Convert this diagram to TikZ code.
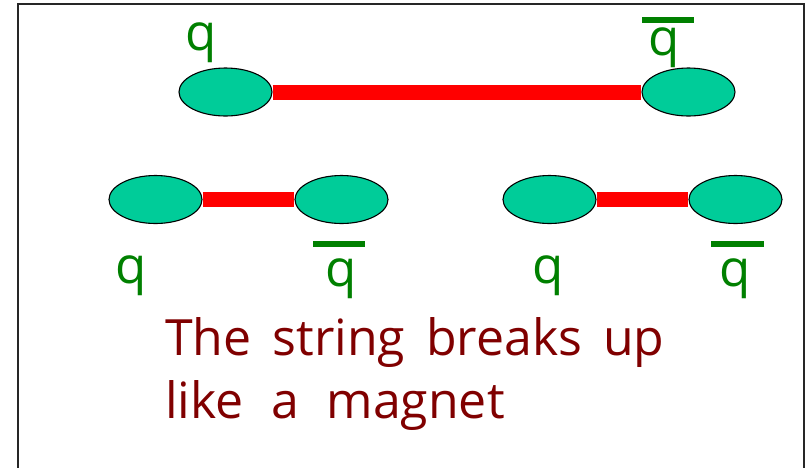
\documentclass[tikz,border=0pt]{standalone}
\usepackage{fontspec}
\setmainfont{Open Sans}
\usetikzlibrary{shapes.geometric}
\definecolor{qgreen}{RGB}{0,128,0}
\definecolor{blob}{RGB}{0,204,153}
\definecolor{strred}{RGB}{255,0,0}
\definecolor{txtred}{RGB}{128,0,0}
\tikzset{
  quark/.style={ellipse, draw=black, line width=1.1pt, fill=blob, minimum width=93pt, minimum height=48pt, inner sep=0pt},
  strng/.style={draw=strred, line width=15pt},
  qlabel/.style={text=qgreen, font=\fontsize{51}{51}\selectfont, inner sep=0pt, anchor=base},
  qbarline/.style={fill=qgreen},
  caption/.style={text=txtred, font=\fontsize{50}{50}\selectfont, inner sep=0pt, anchor=base west}
}
\begin{document}
\begin{tikzpicture}[x=1pt,y=-1pt]
\useasboundingbox (0,0) rectangle (809,467);
\clip (0,0) rectangle (809,467);
\draw[line width=1.6pt, draw=black!85] (18,480) -- (18,4) -- (804,4) -- (804,480);
% top pair
\node[quark] (t1) at (225.5,92) {};
\node[quark] (t2) at (688.5,92) {};
\draw[strng] (t1.east) -- (t2.west);
\node[qlabel] (tq) at (201.5,50) {q};
\node[qlabel] (tqb) at (664.5,55) {q};
\fill[qbarline] (642,17) rectangle (694,23);
% bottom left pair
\node[quark] (a1) at (155.5,199.5) {};
\node[quark] (a2) at (341.5,199.5) {};
\draw[strng] (a1.east) -- (a2.west);
\node[qlabel] (aq) at (131.5,283) {q};
\node[qlabel] (aqb) at (341.5,286) {q};
\fill[qbarline] (313,241) rectangle (365,247);
% bottom right pair
\node[quark] (b1) at (549.5,199.5) {};
\node[quark] (b2) at (735.5,199.5) {};
\draw[strng] (b1.east) -- (b2.west);
\node[qlabel] (bq) at (548.5,283) {q};
\node[qlabel] (bqb) at (735.5,286) {q};
\fill[qbarline] (711,241) rectangle (764,247);
% caption
\node[caption] (c1) at (165,355) {The\hspace{21pt}string\hspace{21pt}breaks\hspace{21pt}up};
\node[caption] (c2) at (165,418) {like\hspace{27.5pt}a\hspace{27.5pt}magnet};
\end{tikzpicture}
\end{document}
